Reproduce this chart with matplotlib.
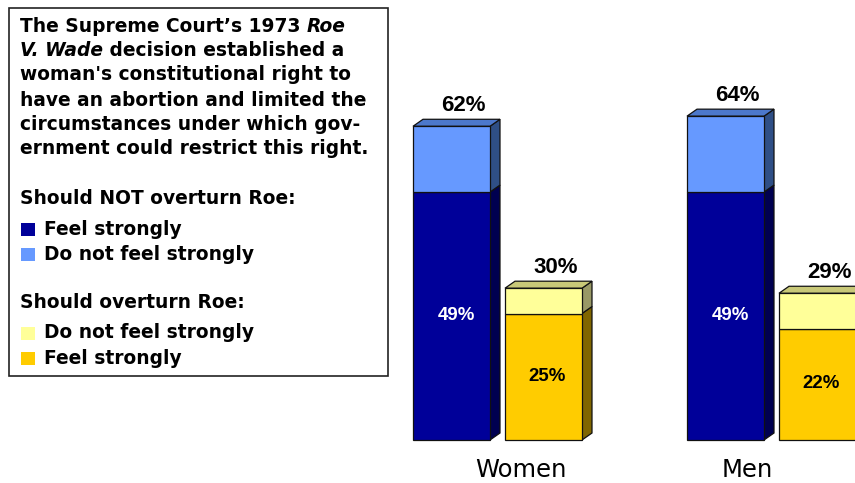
import matplotlib
matplotlib.use("Agg")
import matplotlib.pyplot as plt
from matplotlib.patches import Polygon, Rectangle

# ---- data ----
groups = ["Women", "Men"]
not_strong = [49, 49]        # Should NOT overturn: feel strongly
not_weak = [13, 15]          # Should NOT overturn: do not feel strongly
not_total = [62, 64]
over_strong = [25, 22]       # Should overturn: feel strongly
over_weak = [5, 7]           # Should overturn: do not feel strongly
over_total = [30, 29]

title_lines = [
    [("The Supreme Court\u2019s 1973 ", "normal"), ("Roe", "italic")],
    [("V. Wade", "italic"), (" decision established a", "normal")],
    [("woman's constitutional right to", "normal")],
    [("have an abortion and limited the", "normal")],
    [("circumstances under which gov-", "normal")],
    [("ernment could restrict this right.", "normal")],
]
legend_head1 = "Should NOT overturn Roe:"
legend_head2 = "Should overturn Roe:"
legend_items1 = [("Feel strongly", "#000099"), ("Do not feel strongly", "#6699FF")]
legend_items2 = [("Do not feel strongly", "#FFFF99"), ("Feel strongly", "#FFCC00")]

# colours: front, side, top
C_DB = ("#000099", "#000050", "#000077")
C_LB = ("#6699FF", "#2F4F86", "#4C78CC")
C_LY = ("#FFFF99", "#999966", "#C8C878")
C_GY = ("#FFCC00", "#806600", "#B89400")

W, H = 855, 483
plt.rcParams['font.family'] = ['Liberation Sans', 'DejaVu Sans']
fig = plt.figure(figsize=(W / 100, H / 100), dpi=100)

ax = fig.add_axes([0, 0, 1, 1])
pxx = 274.0       # px per x unit
pxy = 5.06        # px per percent
base_px = 440
gc0 = 497.5
ax.set_xlim(-gc0 / pxx, (W - gc0) / pxx)
ax.set_ylim(-(H - base_px) / pxy, base_px / pxy)
ax.axis("off")

bw = 77 / pxx
off = 46 / pxx
dx = 10 / pxx
dy = 7 / pxy
lab_dx = [23.5 / pxx, -24.5 / pxx]


def seg(x, y0, h, cols, top=False):
    x0 = x - bw / 2
    x1 = x + bw / 2
    ax.bar(x, h, bw, bottom=y0, color=cols[0], edgecolor="#111111", linewidth=0.9, zorder=3)
    ax.add_patch(Polygon([(x1, y0), (x1 + dx, y0 + dy), (x1 + dx, y0 + h + dy), (x1, y0 + h)],
                         closed=True, facecolor=cols[1], edgecolor="#111111", linewidth=0.9, zorder=2))
    if top:
        ax.add_patch(Polygon([(x0, y0 + h), (x0 + dx, y0 + h + dy), (x1 + dx, y0 + h + dy), (x1, y0 + h)],
                             closed=True, facecolor=cols[2], edgecolor="#111111", linewidth=0.9, zorder=2))


for i, g in enumerate(groups):
    xa = i - off
    xb = i + off
    seg(xa, 0, not_strong[i], C_DB)
    seg(xa, not_strong[i], not_weak[i], C_LB, top=True)
    seg(xb, 0, over_strong[i], C_GY)
    seg(xb, over_strong[i], over_weak[i], C_LY, top=True)
    ax.text(xa + 12 / pxx, not_total[i] + dy + 8 / pxy, f"{not_total[i]}%", ha="center", va="baseline",
            fontsize=16, fontweight="bold", color="black")
    ax.text(xb + 12 / pxx, over_total[i] + dy + 8 / pxy, f"{over_total[i]}%", ha="center", va="baseline",
            fontsize=16, fontweight="bold", color="black")
    ax.text(xa + 4.5 / pxx, not_strong[i] / 2 + 0.1, f"{not_strong[i]}%", ha="center", va="center",
            fontsize=13.4, fontweight="bold", color="white", zorder=5)
    ax.text(xb + 4 / pxx, over_strong[i] / 2 + 0.1, f"{over_strong[i]}%", ha="center", va="center",
            fontsize=13.4, fontweight="bold", color="black", zorder=5)
    ax.text(i + lab_dx[i], -(477 - base_px) / pxy, g, ha="center", va="baseline", fontsize=17.5,
            color="black", family=["DejaVu Sans"])

# ---- text box ----
fig.add_artist(Rectangle((9 / W, 1 - 376 / H), (388 - 9) / W, (376 - 8) / H,
                         transform=fig.transFigure, facecolor="white", edgecolor="#222222",
                         linewidth=1.2, zorder=1))

fs = 13.4
bfam = ["DejaVu Sans"]
renderer = fig.canvas.get_renderer()
line_y = [27, 51, 75, 100, 124, 149]
for ly, parts in zip(line_y, title_lines):
    xpos = 20
    for txt, style in parts:
        t = fig.text(xpos / W, 1 - ly / H, txt, fontsize=fs, fontweight="bold", fontstyle=style,
                     ha="left", va="center", zorder=3, family=bfam)
        bb = t.get_window_extent(renderer=renderer)
        xpos += bb.width

fig.text(20 / W, 1 - 198 / H, legend_head1, fontsize=fs, fontweight="bold", ha="left", va="center", family=bfam)
fig.text(20 / W, 1 - 303 / H, legend_head2, fontsize=fs, fontweight="bold", ha="left", va="center", family=bfam)
for (lab, col), ly in list(zip(legend_items1, [229, 254])) + list(zip(legend_items2, [333, 358])):
    fig.add_artist(Rectangle((21 / W, 1 - (ly + 6.5) / H), 14 / W, 13 / H, transform=fig.transFigure,
                             facecolor=col, edgecolor="none", zorder=3))
    fig.text(44 / W, 1 - ly / H, lab, fontsize=fs, fontweight="bold", ha="left", va="center", family=bfam)

fig.savefig("out.png", dpi=100)
